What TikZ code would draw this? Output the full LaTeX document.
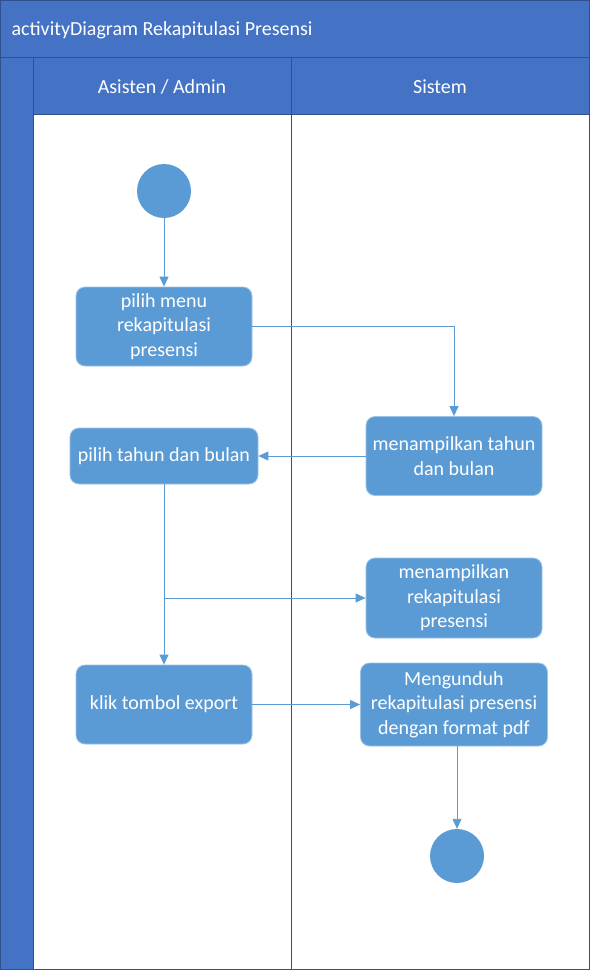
\documentclass[tikz,border=0pt]{standalone}
\usepackage{fontspec}
\setmainfont{Carlito}
\usetikzlibrary{arrows.meta}
\definecolor{kepala}{HTML}{4472C4}
\definecolor{garis}{HTML}{2F528F}
\definecolor{aksi}{HTML}{5B9BD5}
\tikzset{
  aktivitas/.style={rounded corners=9pt, fill=aksi, draw=aksi!60!white, line width=0.8pt, text=white, align=center, inner sep=0pt},
  titik/.style={circle, fill=aksi, minimum size=54pt, inner sep=0pt},
  alur/.style={draw=aksi, line width=0.9pt, -{Triangle[length=10pt,width=9pt]}},
  pita/.style={fill=kepala, draw=garis, line width=1pt},
  lajur/.style={draw=garis, line width=1pt}
}
\begin{document}
\begin{tikzpicture}[x=1pt,y=-1pt,font=\fontsize{20}{24.5}\selectfont]
  \useasboundingbox (0,0) rectangle (591,971);
  % swimlane frame
  \fill[white] (0,0) rectangle (590,970);
  \draw[pita] (0.5,0.5) rectangle (589.5,58);
  \draw[pita] (0.5,58) rectangle (33,969.5);
  \draw[pita] (33,58) rectangle (291,115);
  \draw[pita] (291,58) rectangle (589.5,115);
  \draw[lajur] (33,115) rectangle (291,969.5);
  \draw[lajur] (291,115) rectangle (589.5,969.5);
  \node[text=white, anchor=west] (judul) at (8,30) {activityDiagram Rekapitulasi Presensi};
  \node[text=white] (admin) at (162,87) {Asisten / Admin};
  \node[text=white] (sistem) at (440,87) {Sistem};
  % actions
  \node[titik] (mulai) at (164,191) {};
  \node[aktivitas, minimum width=176pt, minimum height=79pt] (menu) at (164,326.5) {pilih menu\\rekapitulasi\\presensi};
  \node[aktivitas, minimum width=176pt, minimum height=79pt] (tampil) at (454,456) {menampilkan tahun\\dan bulan};
  \node[aktivitas, minimum width=188pt, minimum height=56pt] (tahun) at (164,456) {pilih tahun dan bulan};
  \node[aktivitas, minimum width=176pt, minimum height=80pt] (rekap) at (454,598) {menampilkan\\rekapitulasi\\presensi};
  \node[aktivitas, minimum width=176pt, minimum height=79pt] (klik) at (164,704.5) {klik tombol export};
  \node[aktivitas, minimum width=187pt, minimum height=83pt] (unduh) at (454,704.5) {Mengunduh\\rekapitulasi presensi\\dengan format pdf};
  \node[titik] (selesai) at (457,856) {};
  \coordinate (cabang) at (164,598);
  % flow
  \draw[alur] (mulai) -- (menu);
  \draw[alur] (menu.east) -| (tampil.north);
  \draw[alur] (tampil.west) -- (tahun.east);
  \draw[alur] (tahun.south) -- (klik.north);
  \draw[alur] (cabang) -- (rekap.west);
  \draw[alur] (klik.east) -- (unduh.west);
  \draw[alur] (unduh.south -| selesai) -- (selesai.north);
\end{tikzpicture}
\end{document}
